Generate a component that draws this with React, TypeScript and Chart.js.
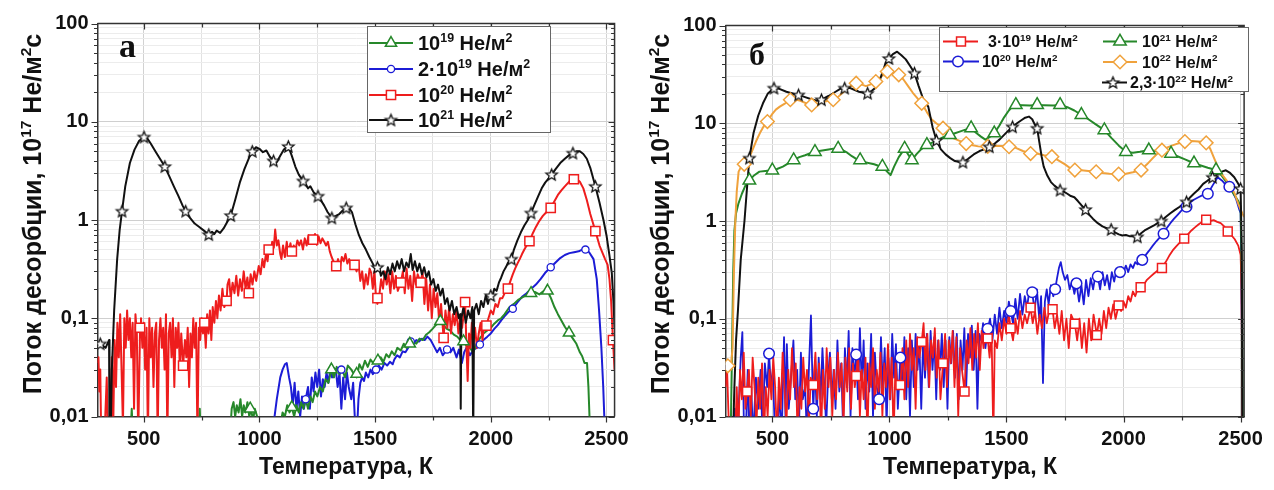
import React, { useEffect, useRef } from 'react';
import { Chart, registerables } from 'chart.js';

Chart.register(...registerables);

type Pt = [number, number];
type Seg = [string, boolean];

// ---------------- axes / text ----------------
const xTickValues = [500, 750, 1000, 1250, 1500, 1750, 2000, 2250, 2500];
const yMajorTicks = [0.01, 0.1, 1, 10, 100];
const yTickLabels = ['0,01', '0,1', '1', '10', '100'];
const xTitleText = 'Температура, К';
const yTitleSegs: Seg[] = [['Поток десорбции, 10', false], ['17', true], [' He/м', false], ['2', true], ['с', false]];

// ---------------- panel a ----------------
const aLabel19: Seg[] = [['10', false], ['19', true], [' He/м', false], ['2', true]];
const aLabel2x19: Seg[] = [['2·10', false], ['19', true], [' He/м', false], ['2', true]];
const aLabel20: Seg[] = [['10', false], ['20', true], [' He/м', false], ['2', true]];
const aLabel21: Seg[] = [['10', false], ['21', true], [' He/м', false], ['2', true]];

const a21Line: Pt[] = [[305,0.052],[312,0.055],[335,0.05],[350,0.06],[352,0.005],[356,0.005],[362,0.03],[372,0.12],[385,0.4],[396,0.8],[406,1.23],[420,2.2],[440,3.8],[460,5.2],[480,6.4],[501,7.0],[515,6.8],[530,6.0],[550,5.0],[570,4.2],[591,3.5],[610,2.8],[630,2.2],[650,1.75],[668,1.4],[681,1.23],[700,1.05],[720,0.92],[740,0.85],[760,0.78],[781,0.71],[795,0.76],[805,0.72],[815,0.78],[830,0.74],[845,0.82],[860,0.95],[876,1.11],[895,1.6],[915,2.4],[935,3.3],[955,4.3],[969,5.0],[985,5.5],[1000,5.3],[1015,4.9],[1030,5.1],[1045,4.4],[1061,4.0],[1075,3.9],[1090,4.5],[1105,5.2],[1125,5.6],[1140,4.5],[1155,3.5],[1170,2.9],[1189,2.5],[1200,2.3],[1210,2.1],[1220,2.2],[1235,1.9],[1253,1.75],[1265,1.6],[1280,1.4],[1295,1.2],[1313,1.05],[1330,1.1],[1345,1.15],[1360,1.25],[1375,1.33],[1390,1.3],[1400,1.2],[1415,0.9],[1430,0.7],[1445,0.58],[1460,0.5],[1475,0.42],[1490,0.36],[1505,0.3],[1515,0.35],[1525,0.27],[1535,0.3],[1545,0.25],[1555,0.33],[1565,0.28],[1575,0.36],[1585,0.3],[1595,0.38],[1605,0.32],[1615,0.4],[1625,0.3],[1635,0.37],[1645,0.33],[1654,0.45],[1662,0.31],[1672,0.38],[1682,0.3],[1692,0.36],[1702,0.28],[1712,0.33],[1722,0.26],[1732,0.3],[1742,0.22],[1752,0.25],[1762,0.19],[1772,0.22],[1782,0.17],[1792,0.2],[1802,0.14],[1812,0.16],[1822,0.12],[1832,0.15],[1842,0.11],[1852,0.13],[1862,0.1],[1868,0.11],[1870,0.012],[1873,0.1],[1882,0.13],[1892,0.09],[1902,0.12],[1912,0.1],[1920,0.13],[1924,0.006],[1928,0.12],[1938,0.14],[1948,0.11],[1958,0.15],[1968,0.13],[1978,0.17],[1988,0.14],[1996,0.17],[2005,0.16],[2015,0.2],[2025,0.19],[2035,0.23],[2045,0.26],[2055,0.3],[2065,0.33],[2075,0.37],[2089,0.4],[2100,0.5],[2115,0.62],[2130,0.75],[2145,0.88],[2160,1.0],[2174,1.18],[2190,1.45],[2205,1.75],[2220,2.1],[2235,2.4],[2250,2.65],[2263,2.9],[2280,3.3],[2300,3.8],[2320,4.2],[2340,4.6],[2355,4.8],[2370,5.0],[2385,5.0],[2400,4.7],[2415,4.2],[2430,3.4],[2452,2.2],[2470,1.5],[2487,1.0],[2500,0.7],[2512,0.45],[2523,0.29],[2530,0.15],[2535,0.08]];
const a21Marks: Pt[] = [[312,0.055],[406,1.23],[501,7.0],[591,3.5],[681,1.23],[781,0.71],[876,1.11],[969,5.0],[1061,4.0],[1125,5.6],[1189,2.5],[1253,1.75],[1313,1.05],[1375,1.33],[1510,0.33],[2000,0.17],[2089,0.4],[2174,1.18],[2263,2.9],[2355,4.8],[2452,2.2]];

const a20Line: Pt[] = [[300,0.035],[304,0.04],[308,0.018],[312,0.03],[316,0.006],[330,0.006],[340,0.025],[345,0.006],[355,0.006],[362,0.04],[368,0.008],[374,0.06],[380,0.02],[386,0.09],[392,0.04],[398,0.11],[404,0.03],[410,0.008],[416,0.1],[422,0.05],[428,0.12],[434,0.06],[440,0.1],[446,0.04],[452,0.09],[458,0.012],[464,0.11],[470,0.07],[476,0.006],[484,0.08],[488,0.1],[494,0.05],[500,0.09],[506,0.03],[512,0.08],[518,0.006],[524,0.1],[530,0.04],[536,0.08],[542,0.02],[548,0.07],[554,0.09],[560,0.006],[566,0.06],[572,0.1],[578,0.05],[584,0.08],[590,0.03],[596,0.11],[602,0.006],[608,0.07],[614,0.09],[620,0.04],[626,0.1],[632,0.02],[638,0.08],[644,0.05],[650,0.09],[656,0.03],[662,0.07],[670,0.033],[678,0.06],[684,0.04],[690,0.08],[696,0.02],[702,0.07],[708,0.04],[714,0.1],[720,0.05],[726,0.09],[732,0.006],[738,0.08],[744,0.06],[750,0.1],[756,0.07],[762,0.09],[768,0.05],[774,0.11],[780,0.07],[786,0.12],[792,0.06],[798,0.13],[805,0.09],[812,0.15],[818,0.1],[825,0.17],[832,0.12],[840,0.2],[848,0.13],[858,0.15],[862,0.22],[869,0.25],[876,0.16],[884,0.23],[892,0.18],[900,0.27],[908,0.17],[916,0.25],[924,0.19],[932,0.3],[940,0.2],[948,0.26],[954,0.18],[962,0.28],[970,0.22],[978,0.3],[986,0.24],[997,0.34],[1005,0.28],[1013,0.4],[1020,0.33],[1028,0.45],[1035,0.38],[1040,0.5],[1048,0.45],[1055,0.6],[1062,0.52],[1068,0.8],[1075,0.55],[1082,0.62],[1090,0.45],[1095,0.4],[1102,0.55],[1110,0.42],[1118,0.6],[1126,0.45],[1134,0.58],[1140,0.48],[1148,0.55],[1156,0.5],[1164,0.62],[1172,0.55],[1180,0.62],[1188,0.5],[1196,0.65],[1204,0.55],[1212,0.7],[1220,0.58],[1232,0.63],[1240,0.72],[1248,0.56],[1256,0.68],[1264,0.58],[1272,0.65],[1280,0.6],[1288,0.55],[1296,0.6],[1304,0.48],[1312,0.42],[1320,0.38],[1332,0.34],[1340,0.4],[1348,0.33],[1356,0.42],[1364,0.38],[1372,0.45],[1380,0.36],[1388,0.4],[1396,0.33],[1411,0.35],[1420,0.3],[1428,0.36],[1436,0.24],[1444,0.3],[1452,0.2],[1460,0.28],[1468,0.22],[1476,0.32],[1483,0.29],[1490,0.2],[1497,0.3],[1504,0.16],[1510,0.14],[1518,0.17],[1526,0.25],[1534,0.2],[1542,0.3],[1550,0.22],[1558,0.28],[1566,0.18],[1574,0.3],[1582,0.2],[1590,0.27],[1598,0.19],[1611,0.23],[1620,0.3],[1628,0.18],[1636,0.32],[1644,0.2],[1652,0.27],[1660,0.15],[1668,0.3],[1676,0.22],[1684,0.28],[1697,0.23],[1705,0.3],[1713,0.14],[1721,0.25],[1729,0.12],[1737,0.22],[1745,0.1],[1753,0.2],[1761,0.13],[1769,0.18],[1777,0.09],[1785,0.14],[1796,0.063],[1804,0.12],[1812,0.08],[1820,0.13],[1828,0.07],[1836,0.11],[1844,0.085],[1852,0.12],[1860,0.07],[1868,0.1],[1876,0.08],[1889,0.146],[1895,0.05],[1900,0.023],[1906,0.07],[1912,0.05],[1918,0.09],[1925,0.06],[1932,0.08],[1940,0.05],[1948,0.07],[1956,0.09],[1964,0.06],[1972,0.09],[1981,0.084],[1990,0.1],[2000,0.12],[2010,0.11],[2020,0.14],[2030,0.13],[2040,0.16],[2050,0.16],[2060,0.18],[2074,0.2],[2085,0.24],[2095,0.28],[2105,0.32],[2115,0.36],[2125,0.4],[2135,0.45],[2145,0.5],[2155,0.55],[2167,0.61],[2180,0.72],[2195,0.85],[2210,0.98],[2225,1.1],[2240,1.2],[2259,1.33],[2275,1.55],[2290,1.8],[2305,2.0],[2320,2.2],[2335,2.4],[2345,2.55],[2359,2.6],[2372,2.6],[2385,2.45],[2400,2.1],[2415,1.6],[2430,1.15],[2452,0.77],[2470,0.55],[2485,0.45],[2494,0.4],[2505,0.35],[2513,0.25],[2520,0.15],[2528,0.06],[2535,0.03]];
const a20Marks: Pt[] = [[484,0.08],[670,0.033],[762,0.09],[858,0.15],[954,0.18],[1040,0.5],[1140,0.48],[1232,0.63],[1332,0.34],[1411,0.35],[1510,0.16],[1611,0.23],[1697,0.23],[1796,0.063],[1889,0.146],[1981,0.084],[2074,0.2],[2167,0.61],[2259,1.33],[2359,2.6],[2452,0.77],[2528,0.06]];

const a19Line: Pt[] = [[300,0.005],[440,0.005],[448,0.012],[455,0.005],[735,0.005],[742,0.012],[748,0.005],[870,0.005],[880,0.012],[888,0.014],[895,0.01],[902,0.013],[910,0.011],[918,0.015],[925,0.01],[932,0.013],[940,0.011],[948,0.014],[956,0.01],[964,0.012],[972,0.009],[980,0.012],[990,0.01],[1000,0.007],[1010,0.005],[1080,0.005],[1090,0.008],[1100,0.011],[1110,0.01],[1120,0.013],[1130,0.011],[1140,0.0124],[1150,0.01],[1160,0.013],[1170,0.011],[1180,0.014],[1190,0.012],[1200,0.015],[1210,0.012],[1220,0.016],[1230,0.014],[1240,0.018],[1250,0.016],[1262,0.02],[1274,0.018],[1286,0.024],[1298,0.022],[1311,0.03],[1322,0.025],[1334,0.032],[1346,0.027],[1358,0.03],[1370,0.025],[1382,0.033],[1397,0.03],[1409,0.027],[1420,0.025],[1432,0.034],[1444,0.03],[1456,0.037],[1468,0.032],[1480,0.038],[1492,0.035],[1512,0.037],[1524,0.04],[1536,0.036],[1548,0.043],[1560,0.04],[1572,0.046],[1584,0.042],[1596,0.05],[1611,0.047],[1624,0.055],[1636,0.05],[1650,0.055],[1664,0.058],[1678,0.055],[1692,0.062],[1706,0.06],[1720,0.068],[1734,0.072],[1748,0.078],[1762,0.085],[1782,0.093],[1795,0.085],[1810,0.078],[1825,0.075],[1840,0.068],[1855,0.065],[1868,0.06],[1882,0.058],[1896,0.052],[1910,0.05],[1924,0.045],[1938,0.055],[1952,0.062],[1968,0.07],[1985,0.075],[2000,0.08],[2015,0.088],[2030,0.095],[2045,0.1],[2060,0.11],[2081,0.13],[2100,0.14],[2120,0.155],[2140,0.165],[2160,0.175],[2174,0.18],[2190,0.185],[2210,0.175],[2230,0.19],[2245,0.19],[2260,0.16],[2275,0.13],[2290,0.11],[2305,0.095],[2320,0.082],[2338,0.071],[2355,0.062],[2370,0.055],[2385,0.045],[2395,0.041],[2405,0.035],[2416,0.035],[2422,0.02],[2430,0.006]];
const a19Marks: Pt[] = [[960,0.012],[1140,0.0124],[1311,0.03],[1420,0.027],[1512,0.037],[1650,0.055],[1782,0.093],[1882,0.058],[2174,0.18],[2245,0.19],[2338,0.071]];

const a2x19Line: Pt[] = [[1040,0.005],[1060,0.008],[1075,0.015],[1090,0.025],[1100,0.03],[1110,0.034],[1118,0.035],[1128,0.025],[1136,0.02],[1144,0.013],[1152,0.022],[1160,0.012],[1168,0.018],[1176,0.01],[1184,0.016],[1192,0.012],[1200,0.015],[1210,0.02],[1218,0.012],[1226,0.025],[1234,0.018],[1242,0.028],[1250,0.02],[1258,0.03],[1266,0.016],[1274,0.024],[1282,0.02],[1290,0.028],[1298,0.022],[1306,0.03],[1314,0.025],[1322,0.031],[1330,0.03],[1338,0.02],[1346,0.028],[1354,0.012],[1362,0.025],[1370,0.015],[1378,0.028],[1386,0.02],[1397,0.015],[1405,0.022],[1412,0.01],[1420,0.006],[1428,0.015],[1436,0.022],[1444,0.025],[1452,0.023],[1460,0.028],[1470,0.025],[1480,0.03],[1490,0.027],[1504,0.03],[1516,0.033],[1528,0.03],[1540,0.035],[1552,0.033],[1564,0.036],[1576,0.034],[1583,0.038],[1595,0.042],[1607,0.04],[1619,0.046],[1631,0.045],[1643,0.05],[1654,0.058],[1666,0.055],[1678,0.06],[1690,0.058],[1702,0.062],[1714,0.06],[1726,0.065],[1740,0.06],[1754,0.052],[1768,0.045],[1780,0.05],[1792,0.042],[1811,0.048],[1825,0.045],[1838,0.05],[1852,0.04],[1862,0.048],[1875,0.035],[1885,0.045],[1895,0.05],[1910,0.042],[1925,0.048],[1940,0.05],[1953,0.054],[1968,0.06],[1985,0.065],[2000,0.07],[2015,0.078],[2030,0.085],[2045,0.095],[2060,0.105],[2075,0.115],[2095,0.125],[2115,0.145],[2135,0.165],[2155,0.18],[2175,0.2],[2195,0.22],[2215,0.25],[2235,0.29],[2259,0.33],[2280,0.37],[2300,0.41],[2320,0.44],[2340,0.46],[2360,0.47],[2380,0.48],[2395,0.5],[2409,0.5],[2425,0.47],[2444,0.4],[2458,0.25],[2468,0.12],[2478,0.05],[2486,0.02],[2494,0.006]];
const a2x19Marks: Pt[] = [[1200,0.015],[1354,0.03],[1504,0.03],[1654,0.058],[1811,0.048],[1953,0.054],[2095,0.125],[2259,0.33],[2409,0.5]];

// ---------------- panel б ----------------
const bLabel3x19: Seg[] = [['3·10', false], ['19', true], [' He/м', false], ['2', true]];
const bLabel20: Seg[] = [['10', false], ['20', true], [' He/м', false], ['2', true]];
const bLabel21: Seg[] = [['10', false], ['21', true], [' He/м', false], ['2', true]];
const bLabel22: Seg[] = [['10', false], ['22', true], [' He/м', false], ['2', true]];
const bLabel23: Seg[] = [['2,3·10', false], ['22', true], [' He/м', false], ['2', true]];

const b23Line: Pt[] = [[332,0.006],[338,0.02],[345,0.06],[353,0.12],[365,0.4],[381,1.0],[392,2.2],[402,4.4],[420,8.0],[440,12],[460,16],[480,20],[507,22.9],[530,22.5],[560,21],[590,20],[612,19.5],[640,18.5],[670,17.5],[690,17],[710,17.4],[740,19],[770,21],[790,22.5],[809,22.9],[830,23],[850,22],[870,21],[890,20.5],[907,20.3],[925,21.5],[940,23],[955,26],[970,33],[985,42],[998,46],[1015,51],[1033,54],[1050,50],[1070,45],[1090,38],[1107,32.6],[1125,24],[1145,17.5],[1166,14.8],[1185,9],[1201,6.7],[1220,5.4],[1240,4.8],[1260,4.4],[1280,4.1],[1300,4.0],[1314,4.0],[1335,4.3],[1360,4.8],[1385,5.2],[1405,5.4],[1427,5.75],[1450,6.2],[1470,6.8],[1490,7.6],[1510,8.5],[1526,9.2],[1545,10],[1565,10.8],[1580,11.4],[1596,11.7],[1610,11],[1620,9.8],[1631,8.9],[1640,6.5],[1650,4.6],[1659,3.6],[1675,2.9],[1690,2.5],[1705,2.3],[1729,2.07],[1745,2.0],[1760,1.9],[1775,1.8],[1790,1.75],[1805,1.6],[1820,1.45],[1838,1.31],[1855,1.15],[1870,1.05],[1890,0.95],[1910,0.88],[1930,0.84],[1947,0.82],[1965,0.76],[1980,0.73],[1995,0.71],[2010,0.72],[2025,0.7],[2040,0.7],[2059,0.69],[2075,0.75],[2090,0.8],[2110,0.85],[2130,0.9],[2145,0.95],[2161,1.0],[2180,1.1],[2200,1.2],[2220,1.3],[2240,1.4],[2255,1.5],[2269,1.57],[2285,1.75],[2300,1.9],[2320,2.1],[2340,2.4],[2360,2.6],[2380,2.8],[2400,3.0],[2420,3.2],[2437,3.3],[2455,3.1],[2473,2.8],[2490,2.4],[2500,2.15],[2505,0.5],[2508,0.005]];
const b23Marks: Pt[] = [[402,4.4],[507,22.9],[612,19.5],[710,17.4],[809,22.9],[907,20.3],[998,46],[1107,32.6],[1201,6.7],[1314,4.0],[1427,5.75],[1526,9.2],[1631,8.9],[1729,2.07],[1838,1.31],[1947,0.82],[2059,0.69],[2161,1.0],[2269,1.57],[2380,2.8],[2500,2.15]];

const b22Line: Pt[] = [[300,0.035],[310,0.033],[322,0.03],[330,0.05],[336,0.3],[342,1.0],[348,2.0],[356,3.2],[367,3.6],[380,3.8],[395,4.2],[409,4.9],[430,6.5],[450,8.2],[465,9.5],[479,10.4],[500,12.5],[515,13.8],[532,14.8],[555,16],[577,17.4],[600,17.5],[620,17],[645,16],[668,15.4],[690,15.8],[715,16.5],[740,17],[760,17.4],[780,18.5],[800,20.5],[820,22.5],[840,24.5],[858,25.7],[880,25],[900,24],[920,25],[942,26.7],[960,29],[975,31.5],[991,33.8],[1010,33],[1025,32],[1040,31.3],[1060,28],[1080,24],[1100,20.5],[1120,18],[1138,16],[1160,13],[1180,11],[1200,10],[1229,8.9],[1250,7.8],[1275,7.0],[1300,6.6],[1328,6.2],[1350,6.0],[1380,5.8],[1405,5.75],[1420,5.8],[1450,5.9],[1480,5.85],[1511,5.75],[1540,5.6],[1570,5.2],[1603,4.9],[1630,4.9],[1660,4.7],[1694,4.55],[1720,4.2],[1750,3.8],[1770,3.5],[1792,3.32],[1820,3.3],[1850,3.25],[1883,3.19],[1910,3.1],[1940,3.05],[1979,3.02],[2010,3.05],[2040,3.15],[2075,3.32],[2100,3.8],[2125,4.4],[2145,4.9],[2164,5.3],[2190,5.7],[2215,6.0],[2240,6.3],[2262,6.5],[2290,6.6],[2320,6.5],[2340,6.4],[2353,6.3],[2370,5.5],[2385,4.5],[2402,3.6],[2420,3.0],[2440,2.6],[2459,2.24],[2475,1.9],[2490,1.5],[2508,1.19],[2515,1.1]];
const b22Marks: Pt[] = [[310,0.033],[380,3.8],[479,10.4],[577,17.4],[668,15.4],[760,17.4],[858,25.7],[942,26.7],[991,33.8],[1040,31.3],[1138,16],[1229,8.9],[1328,6.2],[1420,5.8],[1511,5.75],[1603,4.9],[1694,4.55],[1792,3.32],[1883,3.19],[1979,3.02],[2075,3.32],[2164,5.3],[2262,6.5],[2353,6.3]];

const b21Line: Pt[] = [[300,0.006],[322,0.006],[328,0.05],[333,0.3],[338,0.8],[345,1.2],[355,1.5],[370,1.9],[385,2.3],[402,2.6],[420,2.9],[445,3.2],[470,3.25],[500,3.3],[520,3.4],[545,3.6],[570,3.9],[591,4.2],[615,4.5],[640,4.7],[660,4.9],[682,5.1],[700,5.2],[720,5.3],[740,5.4],[760,5.5],[781,5.5],[800,5.3],[820,5.0],[840,4.6],[860,4.3],[875,4.2],[895,4.0],[915,3.9],[935,3.8],[950,3.7],[970,3.6],[985,3.3],[1005,2.95],[1020,3.6],[1040,4.5],[1065,5.5],[1080,4.8],[1096,4.2],[1115,4.8],[1135,5.4],[1160,6.0],[1180,6.3],[1200,6.6],[1230,7.2],[1258,7.6],[1280,7.9],[1300,8.2],[1325,8.6],[1349,8.9],[1370,8.0],[1391,7.3],[1410,6.8],[1430,7.3],[1448,7.9],[1470,9.5],[1490,11.5],[1510,13.5],[1525,14.8],[1540,15.4],[1570,15.3],[1600,15.2],[1631,15.4],[1660,15.3],[1700,15.2],[1729,15.4],[1760,14.6],[1790,13.5],[1820,12.2],[1850,11],[1880,9.8],[1918,8.5],[1950,7.0],[1980,5.9],[2010,5.1],[2040,5.0],[2070,5.1],[2108,5.3],[2140,5.2],[2170,5.0],[2203,4.9],[2230,4.6],[2260,4.3],[2301,3.9],[2330,3.7],[2360,3.5],[2395,3.32],[2420,2.9],[2445,2.4],[2470,1.9],[2490,1.6],[2500,1.4],[2505,0.3],[2510,0.006]];
const b21Marks: Pt[] = [[402,2.6],[500,3.3],[591,4.2],[682,5.1],[781,5.5],[875,4.2],[970,3.6],[1065,5.5],[1096,4.2],[1160,6.0],[1258,7.6],[1349,8.9],[1448,7.9],[1540,15.4],[1631,15.4],[1729,15.4],[1820,12.2],[1918,8.5],[2010,5.1],[2108,5.3],[2203,4.9],[2301,3.9],[2395,3.32]];

const b20Line: Pt[] = [[300,0.005],[330,0.005],[340,0.012],[350,0.005],[365,0.04],[372,0.073],[378,0.01],[385,0.005],[395,0.03],[402,0.005],[410,0.02],[418,0.006],[430,0.025],[440,0.012],[450,0.03],[458,0.006],[468,0.035],[478,0.02],[486,0.044],[494,0.02],[502,0.03],[510,0.008],[520,0.005],[530,0.018],[540,0.006],[550,0.065],[556,0.01],[562,0.055],[570,0.012],[580,0.025],[590,0.06],[598,0.015],[606,0.03],[614,0.008],[622,0.045],[630,0.015],[640,0.02],[648,0.006],[656,0.03],[665,0.108],[672,0.02],[675,0.012],[682,0.035],[690,0.01],[698,0.04],[706,0.015],[714,0.05],[722,0.02],[730,0.008],[738,0.025],[746,0.045],[754,0.015],[762,0.03],[770,0.012],[778,0.06],[786,0.018],[794,0.035],[802,0.008],[810,0.05],[818,0.02],[826,0.075],[834,0.01],[842,0.05],[850,0.025],[858,0.043],[866,0.015],[874,0.08],[882,0.02],[890,0.06],[898,0.012],[906,0.035],[914,0.018],[922,0.07],[930,0.01],[938,0.045],[946,0.02],[956,0.015],[964,0.065],[972,0.02],[980,0.05],[988,0.008],[996,0.04],[1004,0.015],[1012,0.07],[1020,0.025],[1028,0.055],[1036,0.012],[1047,0.04],[1056,0.02],[1064,0.065],[1072,0.015],[1080,0.05],[1088,0.01],[1096,0.06],[1104,0.02],[1112,0.07],[1120,0.03],[1128,0.055],[1136,0.012],[1144,0.06],[1152,0.025],[1160,0.07],[1168,0.02],[1176,0.075],[1184,0.03],[1192,0.065],[1200,0.015],[1208,0.06],[1216,0.03],[1224,0.07],[1232,0.02],[1240,0.06],[1248,0.012],[1256,0.065],[1264,0.035],[1272,0.075],[1280,0.025],[1288,0.07],[1296,0.015],[1304,0.06],[1312,0.03],[1320,0.08],[1328,0.02],[1336,0.07],[1344,0.04],[1352,0.085],[1360,0.03],[1368,0.075],[1376,0.012],[1384,0.07],[1392,0.06],[1400,0.09],[1410,0.05],[1420,0.079],[1430,0.1],[1440,0.06],[1450,0.11],[1460,0.07],[1470,0.13],[1480,0.08],[1490,0.12],[1500,0.09],[1510,0.15],[1518,0.12],[1528,0.09],[1538,0.16],[1548,0.1],[1558,0.18],[1568,0.11],[1578,0.17],[1588,0.13],[1598,0.2],[1610,0.187],[1620,0.12],[1630,0.2],[1640,0.1],[1648,0.17],[1656,0.022],[1664,0.15],[1672,0.2],[1680,0.14],[1690,0.22],[1700,0.17],[1708,0.2],[1716,0.26],[1724,0.33],[1732,0.38],[1740,0.3],[1750,0.25],[1760,0.28],[1770,0.2],[1780,0.24],[1790,0.18],[1799,0.23],[1810,0.15],[1820,0.22],[1830,0.14],[1840,0.25],[1850,0.17],[1860,0.26],[1870,0.2],[1880,0.28],[1890,0.27],[1900,0.2],[1910,0.3],[1920,0.22],[1930,0.28],[1940,0.2],[1950,0.3],[1960,0.24],[1970,0.32],[1985,0.3],[1990,0.34],[2000,0.3],[2010,0.35],[2020,0.3],[2030,0.36],[2040,0.33],[2050,0.38],[2060,0.36],[2080,0.4],[2095,0.45],[2110,0.5],[2125,0.56],[2140,0.62],[2155,0.68],[2171,0.74],[2185,0.85],[2200,0.95],[2215,1.05],[2230,1.15],[2250,1.3],[2269,1.4],[2285,1.55],[2300,1.65],[2320,1.75],[2340,1.85],[2360,1.9],[2380,2.3],[2402,2.8],[2420,2.6],[2440,2.3],[2452,2.24],[2465,2.0],[2480,1.7],[2495,1.3],[2500,1.2],[2505,0.1],[2508,0.006]];
const b20Marks: Pt[] = [[486,0.044],[675,0.012],[858,0.043],[956,0.015],[1047,0.04],[1420,0.079],[1518,0.12],[1610,0.187],[1708,0.2],[1799,0.23],[1890,0.27],[1985,0.3],[2080,0.4],[2171,0.74],[2269,1.4],[2360,1.9],[2452,2.24]];

const b3x19Line: Pt[] = [[300,0.02],[306,0.035],[312,0.012],[318,0.005],[340,0.005],[348,0.02],[355,0.006],[362,0.03],[370,0.015],[378,0.045],[385,0.012],[392,0.018],[400,0.03],[408,0.01],[416,0.04],[424,0.02],[432,0.008],[440,0.025],[448,0.012],[456,0.035],[464,0.006],[472,0.02],[480,0.01],[488,0.03],[496,0.015],[504,0.04],[512,0.02],[520,0.006],[528,0.025],[536,0.012],[544,0.045],[552,0.02],[560,0.008],[568,0.03],[576,0.015],[584,0.05],[592,0.02],[600,0.035],[608,0.006],[616,0.02],[624,0.012],[632,0.04],[640,0.018],[648,0.03],[656,0.008],[664,0.025],[675,0.021],[684,0.045],[692,0.015],[700,0.035],[708,0.006],[716,0.03],[724,0.012],[732,0.05],[740,0.02],[748,0.04],[756,0.01],[764,0.03],[772,0.015],[780,0.045],[788,0.02],[796,0.035],[804,0.008],[812,0.04],[820,0.018],[828,0.05],[836,0.012],[844,0.035],[852,0.02],[858,0.026],[866,0.045],[874,0.01],[882,0.03],[890,0.015],[898,0.04],[906,0.006],[914,0.035],[922,0.02],[930,0.05],[938,0.012],[946,0.03],[954,0.018],[962,0.045],[970,0.01],[978,0.035],[986,0.02],[994,0.055],[1002,0.015],[1010,0.04],[1018,0.006],[1026,0.035],[1034,0.02],[1047,0.021],[1056,0.05],[1064,0.015],[1072,0.06],[1080,0.02],[1088,0.07],[1096,0.03],[1104,0.05],[1112,0.012],[1120,0.065],[1128,0.04],[1138,0.058],[1146,0.09],[1154,0.03],[1162,0.07],[1170,0.02],[1178,0.06],[1186,0.04],[1194,0.08],[1202,0.025],[1210,0.06],[1218,0.015],[1229,0.035],[1238,0.07],[1246,0.02],[1254,0.06],[1262,0.035],[1270,0.075],[1278,0.02],[1286,0.065],[1294,0.01],[1302,0.05],[1310,0.03],[1321,0.018],[1330,0.06],[1338,0.035],[1346,0.08],[1354,0.03],[1362,0.07],[1370,0.04],[1378,0.09],[1386,0.03],[1394,0.075],[1402,0.05],[1410,0.085],[1420,0.063],[1428,0.04],[1436,0.08],[1444,0.006],[1450,0.06],[1460,0.05],[1470,0.09],[1480,0.06],[1490,0.1],[1500,0.07],[1510,0.11],[1518,0.08],[1528,0.06],[1538,0.1],[1548,0.07],[1558,0.12],[1568,0.08],[1578,0.11],[1588,0.09],[1603,0.13],[1612,0.09],[1622,0.12],[1632,0.07],[1642,0.11],[1652,0.08],[1662,0.13],[1672,0.09],[1682,0.12],[1697,0.125],[1706,0.08],[1716,0.11],[1726,0.07],[1736,0.12],[1746,0.06],[1756,0.1],[1766,0.05],[1776,0.11],[1792,0.089],[1802,0.06],[1812,0.1],[1822,0.05],[1832,0.09],[1842,0.045],[1852,0.1],[1862,0.06],[1872,0.11],[1886,0.068],[1896,0.1],[1906,0.07],[1916,0.12],[1926,0.08],[1936,0.13],[1946,0.1],[1956,0.14],[1966,0.1],[1979,0.137],[1990,0.12],[2000,0.15],[2010,0.13],[2020,0.17],[2030,0.15],[2040,0.19],[2050,0.17],[2060,0.2],[2073,0.21],[2085,0.22],[2100,0.25],[2115,0.27],[2130,0.29],[2145,0.31],[2164,0.33],[2180,0.38],[2195,0.44],[2210,0.5],[2225,0.55],[2240,0.6],[2259,0.66],[2275,0.73],[2290,0.8],[2305,0.86],[2320,0.92],[2335,0.98],[2353,1.03],[2370,1.0],[2385,1.02],[2400,0.98],[2415,0.95],[2430,0.88],[2445,0.78],[2460,0.72],[2475,0.65],[2490,0.56],[2500,0.45],[2504,0.2],[2508,0.006]];
const b3x19Marks: Pt[] = [[392,0.018],[675,0.021],[858,0.026],[1047,0.021],[1138,0.058],[1229,0.035],[1321,0.018],[1420,0.063],[1518,0.08],[1603,0.13],[1697,0.125],[1792,0.089],[1886,0.068],[1979,0.137],[2073,0.21],[2164,0.33],[2259,0.66],[2353,1.03],[2445,0.78]];

// ---------------- styling ----------------
const GREEN = '#26882a';
const BLUE = '#1c1cd6';
const RED = '#ee1d1d';
const BLACK = '#111111';
const ORANGE = '#f0a23c';
const FAMILY = '"Liberation Sans", Arial, sans-serif';
const SERIF = '"Liberation Serif", "Times New Roman", serif';

function starImage(r: number, color: string, lw: number): HTMLCanvasElement {
  const s = Math.ceil(r * 2 + lw * 2 + 2);
  const c = document.createElement('canvas');
  c.width = s; c.height = s;
  const g = c.getContext('2d')!;
  g.translate(s / 2, s / 2 + r * 0.08);
  g.beginPath();
  for (let i = 0; i < 10; i++) {
    const rr = i % 2 === 0 ? r : r * 0.45;
    const a = -Math.PI / 2 + (i * Math.PI) / 5;
    if (i === 0) g.moveTo(Math.cos(a) * rr, Math.sin(a) * rr); else g.lineTo(Math.cos(a) * rr, Math.sin(a) * rr);
  }
  g.closePath();
  g.fillStyle = '#fff'; g.fill();
  g.strokeStyle = color; g.lineWidth = lw; g.lineJoin = 'miter'; g.stroke();
  return c;
}

function drawMarker(ctx: CanvasRenderingContext2D, style: any, x: number, y: number, r: number, color: string, lw: number) {
  if (typeof style !== 'string') { ctx.drawImage(style, x - style.width / 2, y - style.height / 2); return; }
  ctx.save();
  ctx.lineWidth = lw; ctx.strokeStyle = color; ctx.fillStyle = '#fff';
  ctx.beginPath();
  if (style === 'circle') ctx.arc(x, y, r, 0, Math.PI * 2);
  else if (style === 'rect') { const h = r * Math.SQRT1_2; ctx.rect(x - h, y - h, 2 * h, 2 * h); }
  else if (style === 'rectRot') { ctx.moveTo(x, y - r); ctx.lineTo(x + r, y); ctx.lineTo(x, y + r); ctx.lineTo(x - r, y); ctx.closePath(); }
  else if (style === 'triangle') {
    for (let i = 0; i < 3; i++) { const a = -Math.PI / 2 + (i * 2 * Math.PI) / 3; const px = x + Math.cos(a) * r, py = y + Math.sin(a) * r; if (i === 0) ctx.moveTo(px, py); else ctx.lineTo(px, py); }
    ctx.closePath();
  }
  ctx.fill(); ctx.stroke();
  ctx.restore();
}

function richWidth(ctx: CanvasRenderingContext2D, segs: Seg[], size: number, family: string) {
  let w = 0;
  for (const [t, sup] of segs) { ctx.font = `bold ${sup ? size * 0.62 : size}px ${family}`; w += ctx.measureText(t).width; }
  return w;
}
function drawRich(ctx: CanvasRenderingContext2D, segs: Seg[], x: number, y: number, size: number, family: string) {
  let cx = x;
  ctx.textBaseline = 'alphabetic';
  ctx.textAlign = 'left';
  for (const [t, sup] of segs) {
    ctx.font = `bold ${sup ? size * 0.62 : size}px ${family}`;
    ctx.fillText(t, cx, sup ? y - size * 0.4 : y);
    cx += ctx.measureText(t).width;
  }
}

interface Series { line: Pt[]; marks: Pt[]; color: string; style: any; r: number; lw: number; mlw: number; label: Seg[]; }
interface LegendEntry { s: Series; x1: number; x2: number; mx: number; tx: number; y: number; }
interface Panel {
  xMin: number; xMax: number; yWidth: number; padRight: number; padTop: number; xHeight: number;
  drawOrder: Series[];
  legendBox: [number, number, number, number]; legend: LegendEntry[]; legendSize: number;
  letter: string; letterX: number; letterY: number; letterSize: number;
  yTitleX: number; yTitleY: number; xTitleX: number; xTitleY: number;
}

const yTickList: number[] = (() => {
  const out: number[] = [];
  for (let i = 0; i < yMajorTicks.length - 1; i++) for (let m = 1; m < 10; m++) out.push(yMajorTicks[i] * m);
  out.push(yMajorTicks[yMajorTicks.length - 1]);
  return out;
})();
const isMajorY = (v: number) => yMajorTicks.some((m) => Math.abs(v - m) / m < 1e-6);

function makeDecor(p: Panel) {
  return {
    id: 'decor',
    afterDraw(chart: any) {
      const ctx: CanvasRenderingContext2D = chart.ctx;
      const a = chart.chartArea;
      const xs = chart.scales.x, ys = chart.scales.y;
      ctx.save();
      ctx.strokeStyle = '#333';
      ctx.lineWidth = 1.5;
      ctx.beginPath();
      ctx.moveTo(a.left, a.top); ctx.lineTo(a.right, a.top); ctx.lineTo(a.right, a.bottom);
      ctx.stroke();
      ctx.lineWidth = 1.2;
      ctx.beginPath();
      for (const v of xTickValues) {
        const px = Math.round(xs.getPixelForValue(v)) + 0.5;
        const L = v % 500 === 0 ? 6 : 4;
        ctx.moveTo(px, a.bottom); ctx.lineTo(px, a.bottom + L);
        ctx.moveTo(px, a.top); ctx.lineTo(px, a.top + L);
      }
      for (const v of yTickList) {
        const py = Math.round(ys.getPixelForValue(v)) + 0.5;
        const L = isMajorY(v) ? 6 : 3.5;
        ctx.moveTo(a.left - L, py); ctx.lineTo(a.left, py);
        ctx.moveTo(a.right - L, py); ctx.lineTo(a.right, py);
      }
      ctx.stroke();

      // legend
      const [bx1, by1, bx2, by2] = p.legendBox;
      ctx.fillStyle = '#fff';
      ctx.fillRect(bx1, by1, bx2 - bx1, by2 - by1);
      ctx.strokeStyle = '#666'; ctx.lineWidth = 1;
      ctx.strokeRect(bx1 + 0.5, by1 + 0.5, bx2 - bx1, by2 - by1);
      for (const e of p.legend) {
        ctx.strokeStyle = e.s.color; ctx.lineWidth = 2;
        ctx.beginPath(); ctx.moveTo(e.x1, e.y); ctx.lineTo(e.x2, e.y); ctx.stroke();
        drawMarker(ctx, e.s.style, e.mx, e.y, e.s.r, e.s.color, e.s.mlw);
        ctx.fillStyle = '#111';
        drawRich(ctx, e.s.label, e.tx, e.y + p.legendSize * 0.36, p.legendSize, FAMILY);
      }

      // panel letter
      ctx.fillStyle = '#111';
      ctx.font = `bold ${p.letterSize}px ${SERIF}`;
      ctx.textAlign = 'left'; ctx.textBaseline = 'alphabetic';
      ctx.fillText(p.letter, p.letterX, p.letterY);

      // x title
      ctx.font = `bold 23px ${FAMILY}`;
      ctx.textAlign = 'center'; ctx.textBaseline = 'middle';
      ctx.fillText(xTitleText, p.xTitleX, p.xTitleY);

      // y title
      ctx.save();
      ctx.translate(p.yTitleX, p.yTitleY);
      ctx.rotate(-Math.PI / 2);
      const w = richWidth(ctx, yTitleSegs, 25, FAMILY);
      drawRich(ctx, yTitleSegs, -w / 2, 9, 25, FAMILY);
      ctx.restore();
      ctx.restore();
    },
  };
}

function makeConfig(p: Panel): any {
  const datasets: any[] = [];
  p.drawOrder.forEach((s, i) => {
    datasets.push({
      data: s.marks.map(([x, y]) => ({ x, y })), showLine: false, pointStyle: s.style, pointRadius: s.r,
      pointBorderColor: s.color, pointBackgroundColor: '#fff', pointBorderWidth: s.mlw, borderColor: s.color,
      backgroundColor: '#fff', order: i,
    });
    datasets.push({
      data: s.line.map(([x, y]) => ({ x, y })), borderColor: s.color, borderWidth: s.lw, pointRadius: 0,
      fill: false, tension: 0, order: 10 + i, clip: 0, borderJoinStyle: 'round',
    });
  });
  const tickFont = { family: FAMILY, size: 20, weight: 'bold' };
  return {
    type: 'line',
    data: { datasets },
    options: {
      responsive: false, maintainAspectRatio: false, animation: false, devicePixelRatio: 1,
      layout: { padding: { left: 0, right: p.padRight, top: p.padTop, bottom: 0 } },
      plugins: { legend: { display: false }, tooltip: { enabled: false } },
      scales: {
        x: {
          type: 'linear', min: p.xMin, max: p.xMax,
          afterBuildTicks: (s: any) => { s.ticks = xTickValues.map((v) => ({ value: v })); },
          afterFit: (s: any) => { s.height = p.xHeight; },
          ticks: { callback: (v: any) => (v % 500 === 0 ? String(v) : ''), font: tickFont, color: '#111', padding: 11, maxRotation: 0, minRotation: 0, autoSkip: false },
          grid: { drawTicks: false, color: (c: any) => (c.tick && c.tick.value % 500 === 0 ? '#d2d2d2' : '#e2e2e2'), lineWidth: 1 },
          border: { color: '#333', width: 1.5 },
          title: { display: false },
        },
        y: {
          type: 'logarithmic', min: 0.01, max: 100,
          afterBuildTicks: (s: any) => { s.ticks = yTickList.map((v) => ({ value: v })); },
          afterFit: (s: any) => { s.width = p.yWidth; },
          ticks: {
            callback: (v: any) => { const i = yMajorTicks.findIndex((m) => Math.abs(v - m) / m < 1e-6); return i >= 0 ? yTickLabels[i] : ''; },
            font: tickFont, color: '#111', padding: 9, autoSkip: false,
          },
          grid: { drawTicks: false, color: (c: any) => (c.tick && isMajorY(c.tick.value) ? '#cfcfcf' : '#ececec'), lineWidth: 1 },
          border: { color: '#333', width: 1.5 },
          title: { display: false },
        },
      },
    },
    plugins: [makeDecor(p)],
  };
}

function buildPanels(): [Panel, Panel] {
  const sA19: Series = { line: a19Line, marks: a19Marks, color: GREEN, style: 'triangle', r: 6.5, lw: 2, mlw: 1.5, label: aLabel19 };
  const sA2x19: Series = { line: a2x19Line, marks: a2x19Marks, color: BLUE, style: 'circle', r: 3.6, lw: 2, mlw: 1.3, label: aLabel2x19 };
  const sA20: Series = { line: a20Line, marks: a20Marks, color: RED, style: 'rect', r: 6.5, lw: 2, mlw: 1.5, label: aLabel20 };
  const sA21: Series = { line: a21Line, marks: a21Marks, color: BLACK, style: starImage(6, BLACK, 1.3), r: 6, lw: 2, mlw: 1.3, label: aLabel21 };

  const sB3: Series = { line: b3x19Line, marks: b3x19Marks, color: RED, style: 'rect', r: 6.3, lw: 1.8, mlw: 1.5, label: bLabel3x19 };
  const sB20: Series = { line: b20Line, marks: b20Marks, color: BLUE, style: 'circle', r: 5.3, lw: 1.8, mlw: 1.5, label: bLabel20 };
  const sB21: Series = { line: b21Line, marks: b21Marks, color: GREEN, style: 'triangle', r: 7.2, lw: 2, mlw: 1.5, label: bLabel21 };
  const sB22: Series = { line: b22Line, marks: b22Marks, color: ORANGE, style: 'rectRot', r: 6.8, lw: 2, mlw: 1.5, label: bLabel22 };
  const sB23: Series = { line: b23Line, marks: b23Marks, color: BLACK, style: starImage(6, BLACK, 1.3), r: 6, lw: 2, mlw: 1.3, label: bLabel23 };

  const A: Panel = {
    xMin: 300, xMax: 2535, yWidth: 97.5, padRight: 18, padTop: 23.5, xHeight: 73.5,
    drawOrder: [sA21, sA20, sA19, sA2x19],
    legendBox: [367, 26, 550, 132], legendSize: 20,
    legend: [
      { s: sA19, x1: 369, x2: 413, mx: 391, tx: 418, y: 43 },
      { s: sA2x19, x1: 369, x2: 413, mx: 391, tx: 418, y: 69 },
      { s: sA20, x1: 369, x2: 413, mx: 391, tx: 418, y: 95 },
      { s: sA21, x1: 369, x2: 413, mx: 391, tx: 418, y: 120 },
    ],
    letter: 'а', letterX: 119, letterY: 57, letterSize: 34,
    yTitleX: 32, yTitleY: 214, xTitleX: 346, xTitleY: 468,
  };
  const o = 640;
  const B: Panel = {
    xMin: 300, xMax: 2515, yWidth: 725.5 - o, padRight: 22, padTop: 25.5, xHeight: 73.5,
    drawOrder: [sB23, sB22, sB21, sB3, sB20],
    legendBox: [939 - o, 27, 1248 - o, 91], legendSize: 16,
    legend: [
      { s: sB3, x1: 943 - o, x2: 978 - o, mx: 961 - o, tx: 988 - o, y: 41.5 },
      { s: sB20, x1: 943 - o, x2: 979 - o, mx: 958 - o, tx: 982 - o, y: 61.5 },
      { s: sB21, x1: 1103 - o, x2: 1137 - o, mx: 1120 - o, tx: 1142 - o, y: 41.5 },
      { s: sB22, x1: 1103 - o, x2: 1137 - o, mx: 1120 - o, tx: 1142 - o, y: 62 },
      { s: sB23, x1: 1102 - o, x2: 1127 - o, mx: 1113 - o, tx: 1130 - o, y: 82.5 },
    ],
    letter: 'б', letterX: 749 - o, letterY: 65, letterSize: 32,
    yTitleX: 660 - o, yTitleY: 214, xTitleX: 970 - o, xTitleY: 468,
  };
  return [A, B];
}

export default function App() {
  const leftRef = useRef<HTMLCanvasElement>(null);
  const rightRef = useRef<HTMLCanvasElement>(null);
  useEffect(() => {
    const [A, B] = buildPanels();
    const c1 = new Chart(leftRef.current as HTMLCanvasElement, makeConfig(A));
    const c2 = new Chart(rightRef.current as HTMLCanvasElement, makeConfig(B));
    return () => { c1.destroy(); c2.destroy(); };
  }, []);
  return (
    <div style={{ position: 'absolute', left: 0, top: 0, width: 1274, height: 490, background: '#fff', overflow: 'hidden' }}>
      <canvas ref={leftRef} width={640} height={490} style={{ position: 'absolute', left: 0, top: 0, width: 640, height: 490 }} />
      <canvas ref={rightRef} width={634} height={490} style={{ position: 'absolute', left: 640, top: 0, width: 634, height: 490 }} />
    </div>
  );
}
